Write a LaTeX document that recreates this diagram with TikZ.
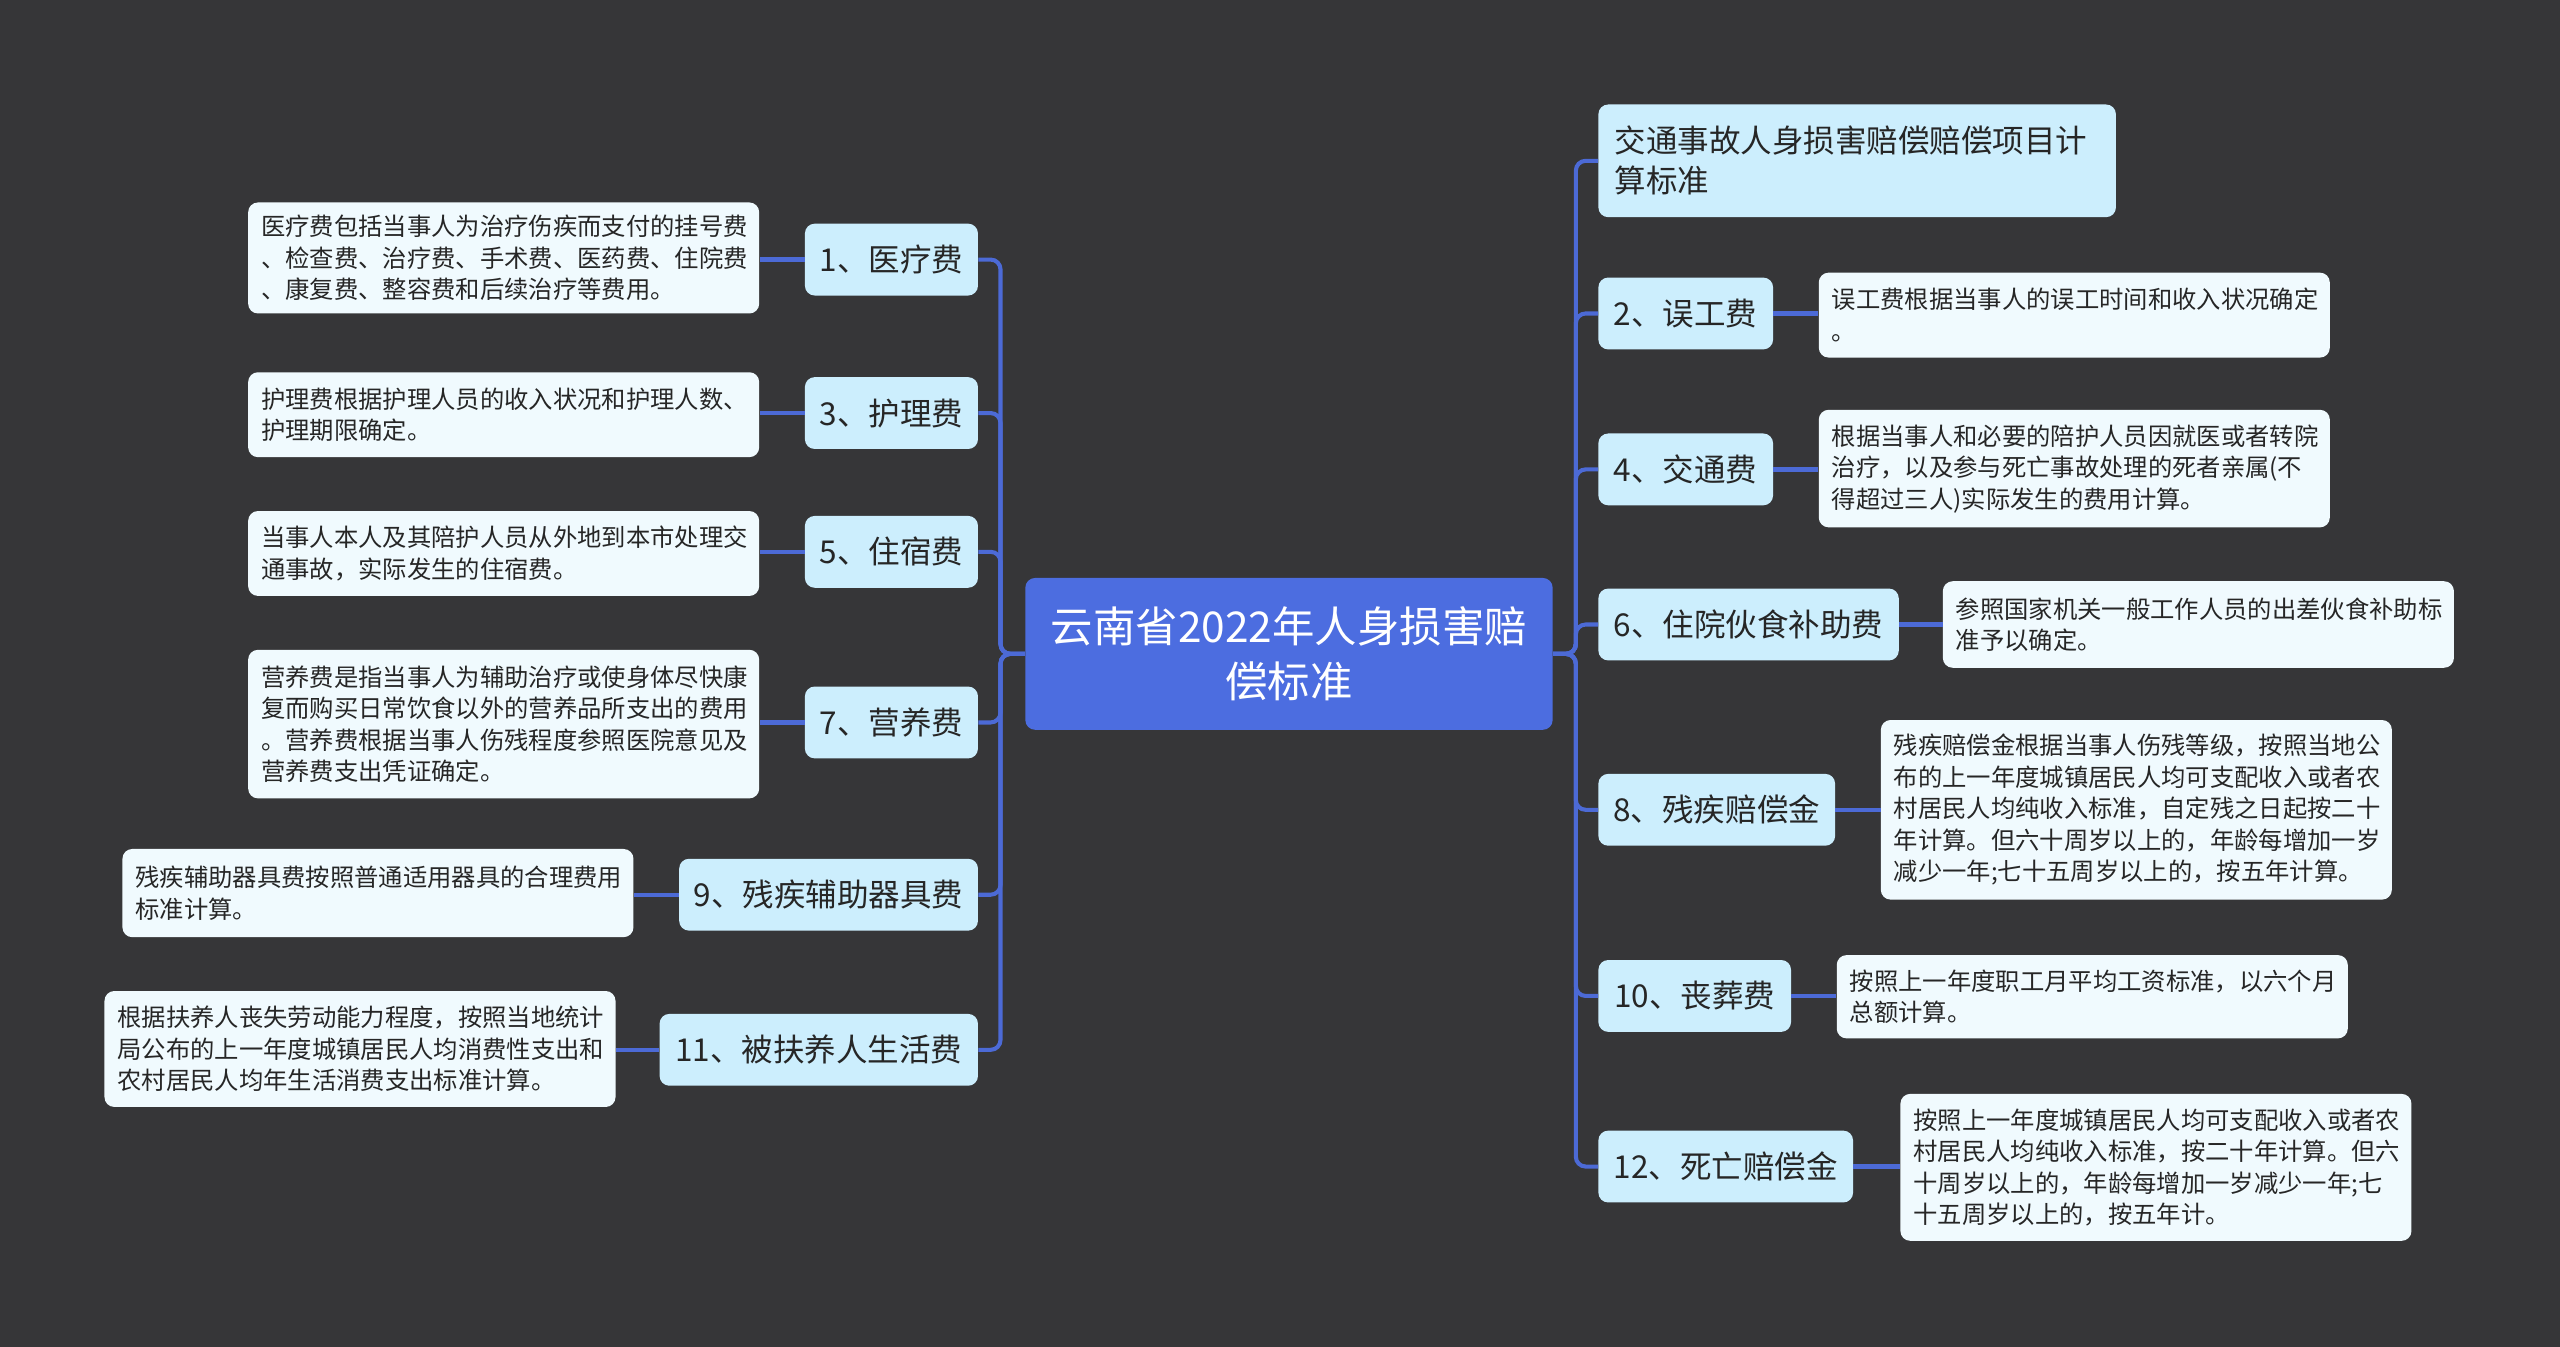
\documentclass[tikz,border=0pt]{standalone}
\usepackage{fontspec}
\setmainfont{Noto Sans CJK SC}
\definecolor{bg}{RGB}{54,54,56}
\definecolor{rootc}{RGB}{76,109,224}
\definecolor{linec}{RGB}{76,106,214}
\definecolor{sumc}{RGB}{204,238,253}
\definecolor{detc}{RGB}{240,250,254}
\tikzset{
  x=1pt,y=-1pt,
  rootbox/.style={fill=rootc, rounded corners=6, text=white, align=center, inner sep=0pt,
    font=\fontsize{26}{34}\selectfont},
  sumbox/.style={fill=sumc, rounded corners=6, text=black!85, align=center, inner sep=0pt,
    minimum height=44, font=\fontsize{19.3}{24.5}\selectfont},
  detbox/.style={fill=detc, rounded corners=6, text=black!85, align=left, inner xsep=8pt, inner ysep=0pt,
    text width=297, minimum width=313, font=\fontsize{14.9}{19.3}\selectfont},
  conn/.style={draw=linec, line width=2.5pt, rounded corners=6},
  link/.style={draw=linec, line width=2.6pt}
}
\begin{document}
\begin{tikzpicture}
\fill[bg] (0,0) rectangle (1568,825);
\useasboundingbox (0,0) rectangle (1568,825);

% root to summaries (drawn first, under the boxes)
\coordinate (rl) at (628,400.5);
\coordinate (rr) at (951,400.5);

% root
\node[rootbox, minimum width=323, minimum height=93] (root) at (789.5,400.5) {云南省2022年人身损害赔\\偿标准};

% left summaries
\node[sumbox, minimum width=106] (s1) at (546,159) {1、医疗费};
\node[sumbox, minimum width=106] (s3) at (546,253) {3、护理费};
\node[sumbox, minimum width=106] (s5) at (546,338) {5、住宿费};
\node[sumbox, minimum width=106] (s7) at (546,442.5) {7、营养费};
\node[sumbox, minimum width=183] (s9) at (507.5,548) {9、残疾辅助器具费};
\node[sumbox, minimum width=195] (s11) at (501.5,643) {11、被扶养人生活费};

% right summaries
\node[sumbox, minimum width=317, minimum height=69, align=left, text width=297] (t) at (1137.5,98.5) {交通事故人身损害赔偿赔偿项目计\\算标准};
\node[sumbox, minimum width=107] (s2) at (1032.5,192) {2、误工费};
\node[sumbox, minimum width=107] (s4) at (1032.5,287.5) {4、交通费};
\node[sumbox, minimum width=184] (s6) at (1071,382.5) {6、住院伙食补助费};
\node[sumbox, minimum width=145] (s8) at (1051.5,496) {8、残疾赔偿金};
\node[sumbox, minimum width=118] (s10) at (1038,610) {10、丧葬费};
\node[sumbox, minimum width=156] (s12) at (1057,714.5) {12、死亡赔偿金};

% left details
\node[detbox, minimum height=68] (d1) at (308.5,158) {医疗费包括当事人为治疗伤疾而支付的挂号费\\、检查费、治疗费、手术费、医药费、住院费\\、康复费、整容费和后续治疗等费用。};
\node[detbox, minimum height=52] (d3) at (308.5,254) {护理费根据护理人员的收入状况和护理人数、\\护理期限确定。};
\node[detbox, minimum height=52] (d5) at (308.5,339) {当事人本人及其陪护人员从外地到本市处理交\\通事故，实际发生的住宿费。};
\node[detbox, minimum height=91] (d7) at (308.5,443.5) {营养费是指当事人为辅助治疗或使身体尽快康\\复而购买日常饮食以外的营养品所支出的费用\\。营养费根据当事人伤残程度参照医院意见及\\营养费支出凭证确定。};
\node[detbox, minimum height=54] (d9) at (231.5,547) {残疾辅助器具费按照普通适用器具的合理费用\\标准计算。};
\node[detbox, minimum height=71] (d11) at (220.5,642.5) {根据扶养人丧失劳动能力程度，按照当地统计\\局公布的上一年度城镇居民人均消费性支出和\\农村居民人均年生活消费支出标准计算。};

% right details
\node[detbox, minimum height=52] (d2) at (1270.5,193) {误工费根据当事人的误工时间和收入状况确定\\。};
\node[detbox, minimum height=72] (d4) at (1270.5,287) {根据当事人和必要的陪护人员因就医或者转院\\治疗，以及参与死亡事故处理的死者亲属(不\\得超过三人)实际发生的费用计算。};
\node[detbox, minimum height=53] (d6) at (1346.5,382.5) {参照国家机关一般工作人员的出差伙食补助标\\准予以确定。};
\node[detbox, minimum height=110] (d8) at (1308.5,496) {残疾赔偿金根据当事人伤残等级，按照当地公\\布的上一年度城镇居民人均可支配收入或者农\\村居民人均纯收入标准，自定残之日起按二十\\年计算。但六十周岁以上的，年龄每增加一岁\\减少一年;七十五周岁以上的，按五年计算。};
\node[detbox, minimum height=51] (d10) at (1281.5,610.5) {按照上一年度职工月平均工资标准，以六个月\\总额计算。};
\node[detbox, minimum height=90] (d12) at (1320.5,715) {按照上一年度城镇居民人均可支配收入或者农\\村居民人均纯收入标准，按二十年计算。但六\\十周岁以上的，年龄每增加一岁减少一年;七\\十五周岁以上的，按五年计。};

% root to summaries
\foreach \n in {s1,s3,s5,s7,s9,s11}{
  \draw[conn] (root.west) -- ++(-15,0) |- (\n.east);
}
\foreach \n in {t,s2,s4,s6,s8,s10,s12}{
  \draw[conn] (root.east) -- ++(14,0) |- (\n.west);
}

% summary to detail
\foreach \a/\b in {s1/d1,s3/d3,s5/d5,s7/d7,s9/d9,s11/d11}{
  \draw[link] (\a.west) -- (\a.west -| \b.east);
}
\foreach \a/\b in {s2/d2,s4/d4,s6/d6,s8/d8,s10/d10,s12/d12}{
  \draw[link] (\a.east) -- (\a.east -| \b.west);
}
\end{tikzpicture}
\end{document}
